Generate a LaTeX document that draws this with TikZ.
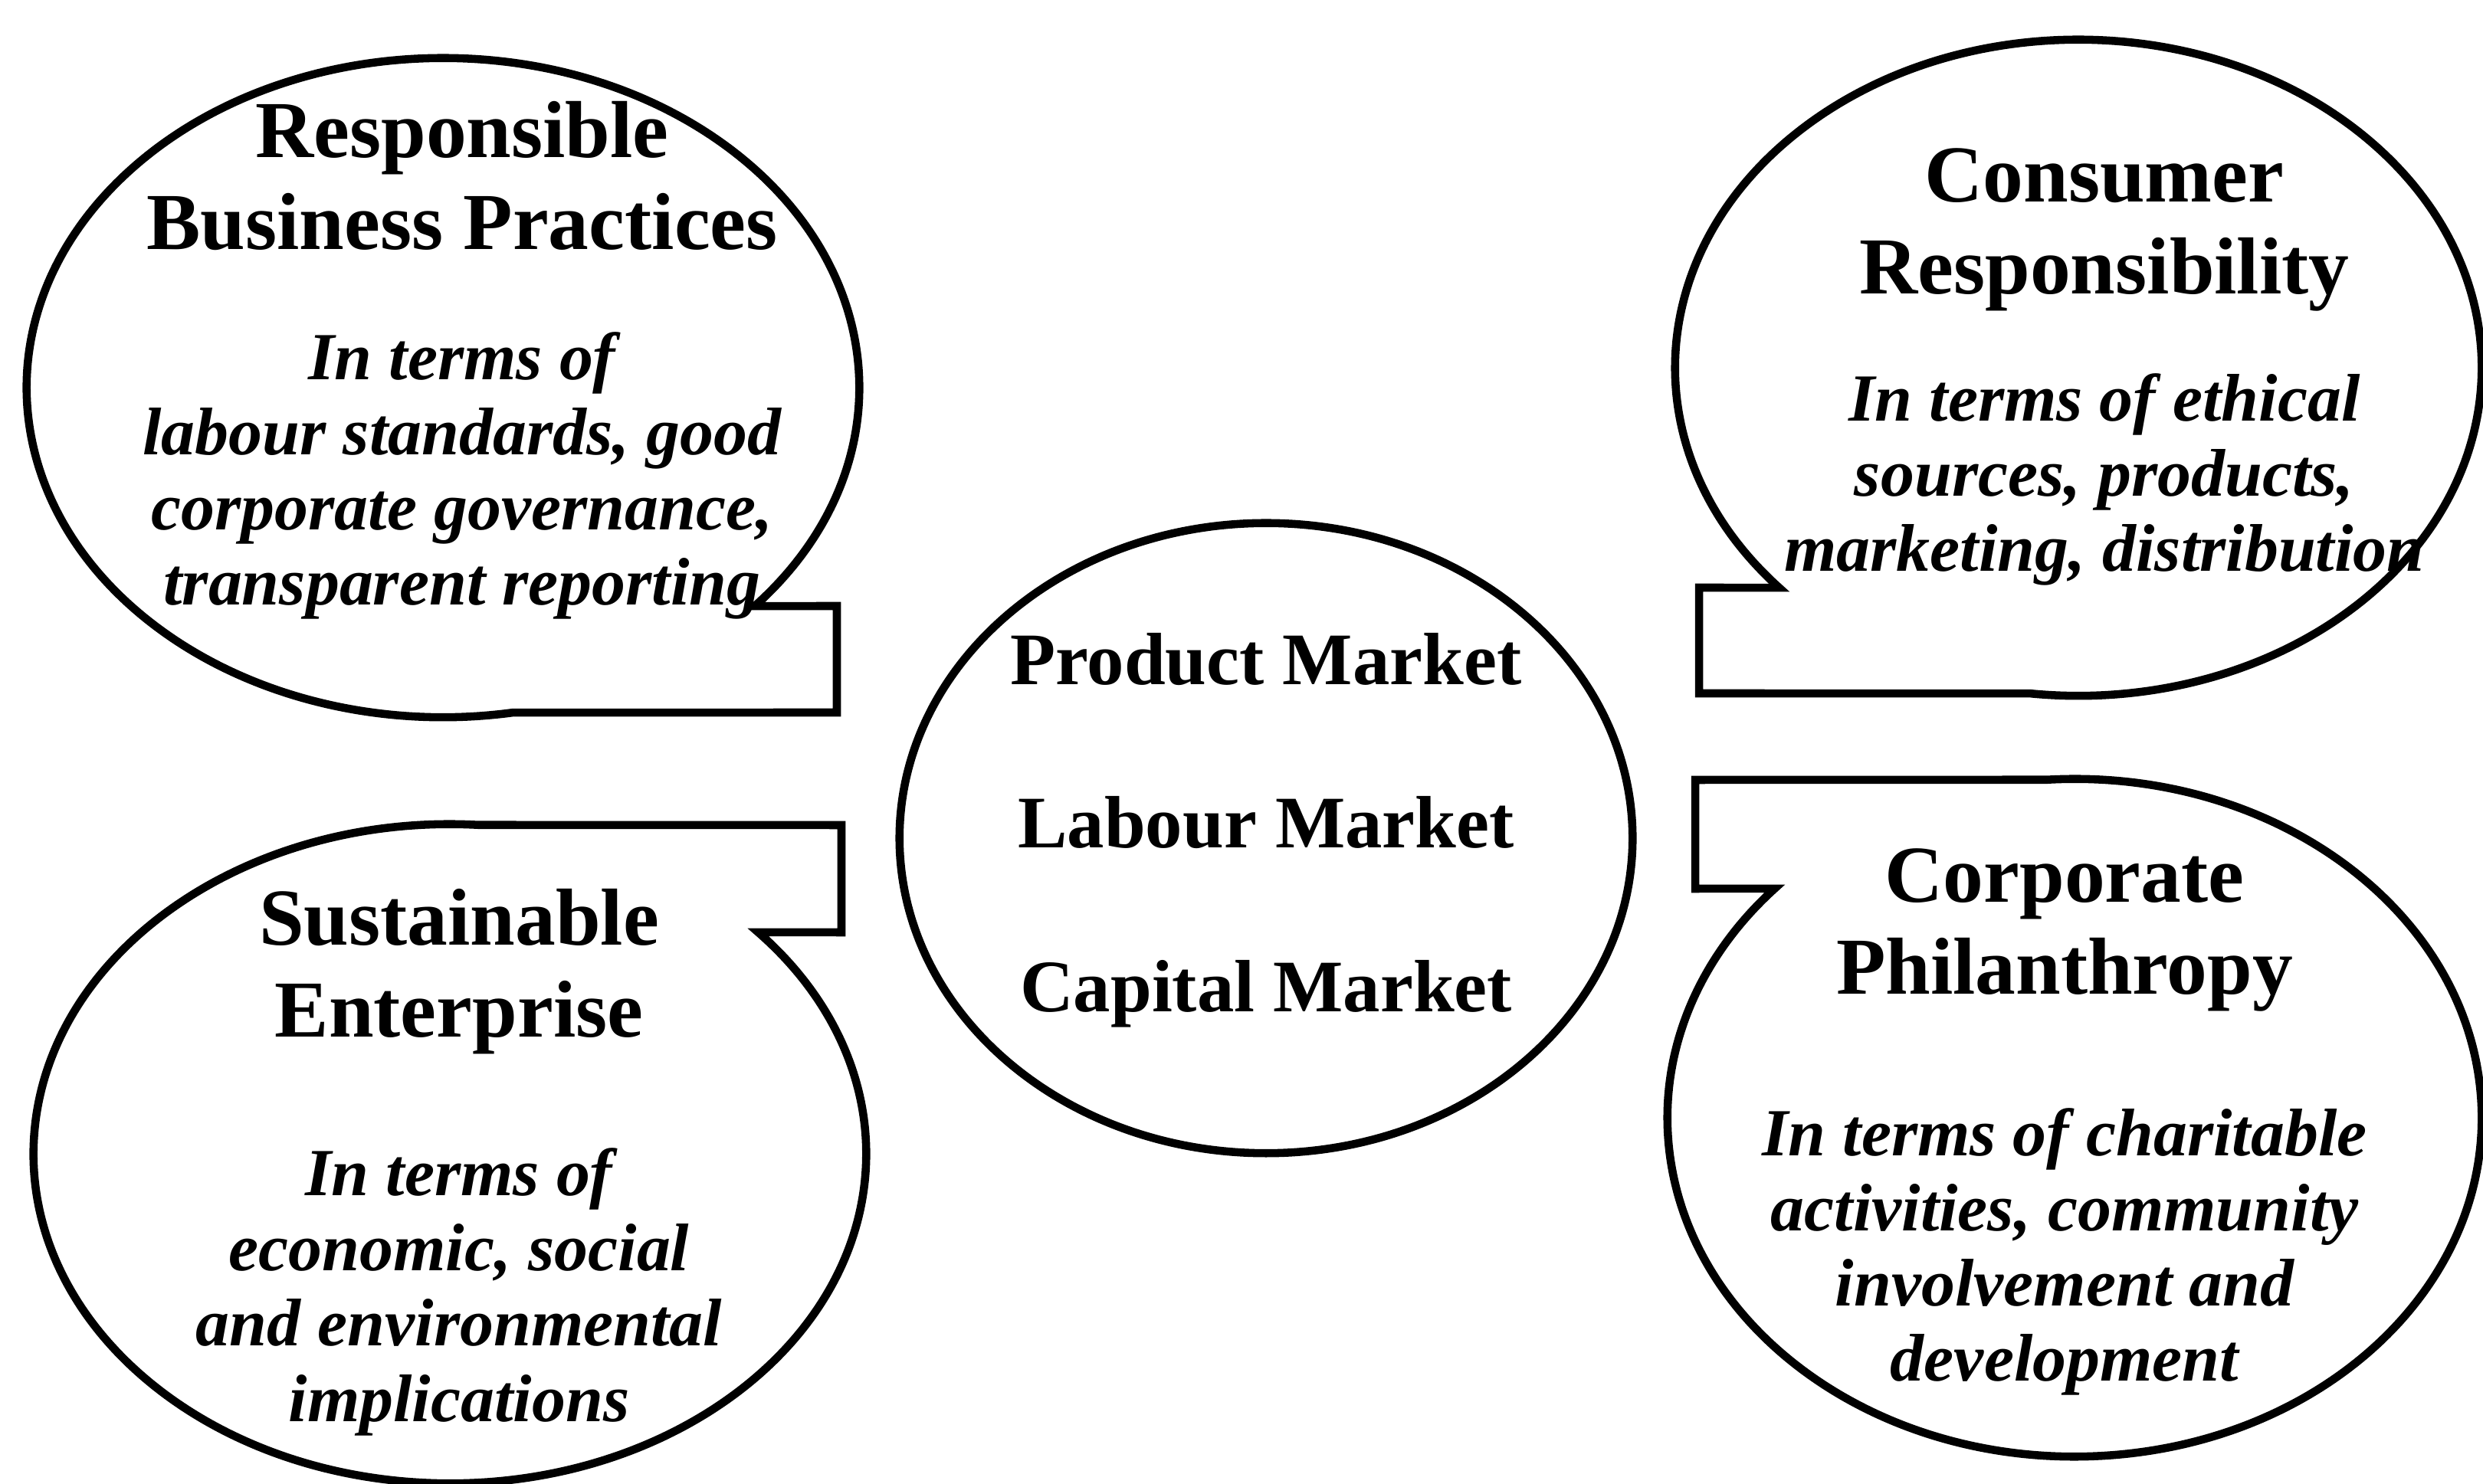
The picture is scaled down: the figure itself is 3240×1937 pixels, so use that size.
\documentclass[tikz,border=0pt]{standalone}
\usepackage{fontspec}
\setmainfont{Liberation Serif}
\usetikzlibrary{positioning, shapes.geometric}

\begin{document}
\begin{tikzpicture}[x=0.01cm, y=0.01cm,
		bubble/.style={draw=black, line width=3pt},
		heading/.style={align=center, inner sep=0pt, font=\fontsize{30}{34.1}\selectfont\bfseries},
		terms/.style={align=center, inner sep=0pt, font=\fontsize{25}{27.9}\selectfont\bfseries\itshape},
		market/.style={inner sep=0pt, text height=0.68cm, text depth=0.21cm, font=\fontsize{27.5}{33}\selectfont\bfseries}
		]
		\useasboundingbox (0,0) rectangle (3240,1937);
		
		% Bubble centres
		\coordinate (rbp) at (578,1431);
		\coordinate (cr) at (2712,1457);
		\coordinate (cp) at (2707,478);
		\coordinate (se) at (587,431);
		
		% Speech bubbles with their tabs
		\draw[bubble] (rbp) ++(-41.52:5.43cm and 4.3cm) arc[start angle=-41.52, end angle=279.58, x radius=5.43cm, y radius=4.3cm] -- (1092,1007) -- (1092,1146) -- cycle;
		\draw[bubble] (cr) ++(222.11:5.26cm and 4.28cm) arc[start angle=222.11, end angle=-96.79, x radius=5.26cm, y radius=4.28cm] -- (2217,1032) -- (2217,1170) -- cycle;
		\draw[bubble] (cp) ++(93.85:5.31cm and 4.42cm) arc[start angle=93.85, end angle=-222.57, x radius=5.31cm, y radius=4.42cm] -- (2212,777) -- (2212,919) -- cycle;
		\draw[bubble] (se) ++(86.09:5.43cm and 4.3cm) arc[start angle=86.09, end angle=402.23, x radius=5.43cm, y radius=4.3cm] -- (1098,720) -- (1098,860) -- cycle;
		
		% Markets in the middle
		\node[bubble, ellipse, minimum width=9.56cm, minimum height=8.22cm, inner sep=0pt] (markets) at (1652,843) {};
		\node[market] (labour) at (1652,853.5) {Labour Market};
		\node[market, above=1.23cm of labour] (product) {Product Market};
		\node[market, below=1.23cm of labour] (capital) {Capital Market};
		
		% Bubble texts
		\node[heading] (rbpt) at (603,1707) {Responsible\\Business Practices};
		\node[terms, below=1.05cm of rbpt] (rbpd) {In terms of\\labour standards, good\\corporate governance,\\transparent reporting};
		
		\node[heading] (crt) at (2746,1637) {Consumer\\Responsibility};
		\node[terms, below=0.8cm of crt] (crd) {In terms of ethical\\sources, products,\\marketing, distribution};
		
		\node[heading] (cpt) at (2694,723) {Corporate\\Philanthropy};
		\node[terms, below=1.25cm of cpt] (cpd) {In terms of charitable\\activities, community\\involvement and\\development};
		
		\node[heading] (set) at (599,668.5) {Sustainable\\Enterprise};
		\node[terms, below=1.21cm of set] (sed) {In terms of\\economic, social\\and environmental\\implications};
		
	\end{tikzpicture}
\end{document}
